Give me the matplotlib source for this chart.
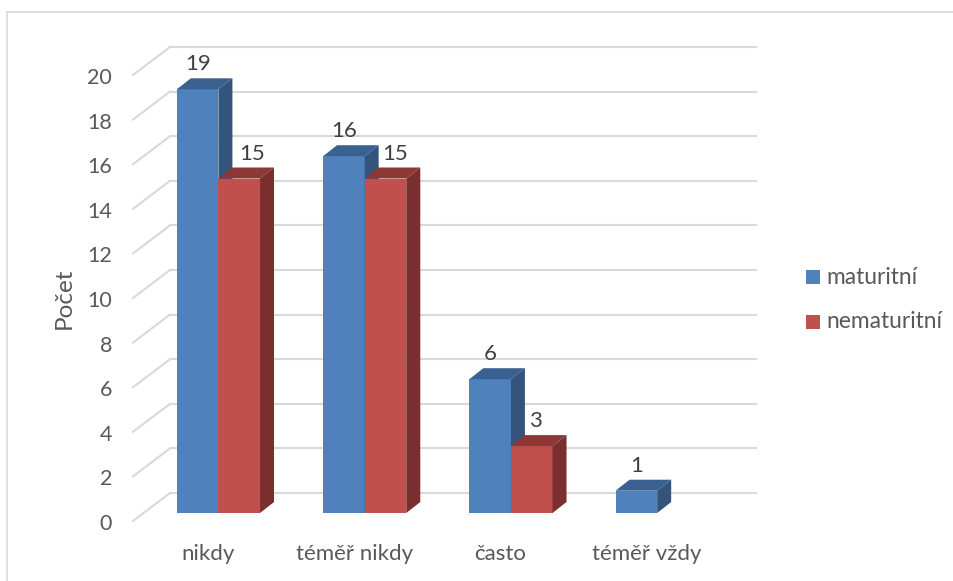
import matplotlib
matplotlib.use('Agg')
import matplotlib.pyplot as plt
import matplotlib.transforms as mtrans
from matplotlib.patches import Rectangle

plt.rcParams['font.family'] = ['Lato', 'DejaVu Sans']

categories = ['nikdy', 'téměř nikdy', 'často', 'téměř vždy']
maturitni = [19, 16, 6, 1]
nematuritni = [15, 15, 3, 0]
y_ticks = list(range(0, 21, 2))

W, H = 954, 581
BLUE = ('#4F81BD', '#3A6190', '#34547C')
RED = ('#C0504D', '#8E3836', '#7A2F2E')
GRID = '#D9D9D9'
TEXT = '#595959'

fig = plt.figure(figsize=(W / 100, H / 100), dpi=100)

# front plane of the bars, in pixels
left, right, y0, y20 = 145.3, 730.3, 513.0, 67.0
ax = fig.add_axes([left / W, 1 - y0 / H, (right - left) / W, (y0 - y20) / H])
ax.set_xlim(-0.5, 3.5)
ax.set_ylim(0, 20)

px_x = 1 / ((right - left) / 4)
px_y = 20 / (y0 - y20)


def px_offset(dx, dy):
    return mtrans.ScaledTranslation(dx / 100, dy / 100, fig.dpi_scale_trans)


# back wall gridlines and the slanted lines on the side wall
for t in y_ticks:
    wall_y = t + 20 * px_y
    wall_left = -0.5 + 24.7 * px_x
    ax.plot([wall_left, -0.5 + 610.7 * px_x], [wall_y, wall_y], color=GRID, lw=1.5,
            clip_on=False, zorder=1)
    ax.plot([-0.5 - 12.3 * px_x, wall_left], [t - 8 * px_y, wall_y], color=GRID, lw=1.5,
            clip_on=False, zorder=1)

bar_w = 41.6 * px_x
depth_x = 14 * px_x
depth_y = 11 * px_y


def draw_bar(x, val, colors):
    if val == 0:
        return
    ax.bar(x, val, width=bar_w, align='edge', color=colors[0], zorder=3, clip_on=False)
    ax.fill([x, x + depth_x, x + bar_w + depth_x, x + bar_w],
            [val, val + depth_y, val + depth_y, val], color=colors[1], lw=0, zorder=3, clip_on=False)
    ax.fill([x + bar_w, x + bar_w + depth_x, x + bar_w + depth_x, x + bar_w],
            [0, depth_y, val + depth_y, val], color=colors[2], lw=0, zorder=3, clip_on=False)


label_shift_red = [13, 10, 4, 0]
for i, (a, b) in enumerate(zip(maturitni, nematuritni)):
    draw_bar(i - bar_w, a, BLUE)
    draw_bar(i, b, RED)
    ax.text(i - bar_w / 2, a + 25 * px_y, str(a), ha='center',
            va='center', fontsize=16, color='#404040', zorder=5)
    if b > 0:
        ax.text(i + bar_w / 2 + label_shift_red[i] * px_x, b + 25 * px_y, str(b), ha='center',
                va='center', fontsize=16, color='#404040', zorder=5)

ax.set_xticks(range(len(categories)))
ax.set_xticklabels(categories)
ax.set_yticks(y_ticks)
ax.tick_params(length=0, labelsize=15.5, labelcolor=TEXT)
ax.tick_params(axis='y', pad=24)
ax.tick_params(axis='x', pad=22)
ax.tick_params(axis='x', labelsize=16)
for lab in ax.get_yticklabels():
    lab.set_transform(lab.get_transform() + px_offset(0, -9))
for lab in ax.get_xticklabels():
    lab.set_transform(lab.get_transform() + px_offset(-10.5, 0))
for s in ax.spines.values():
    s.set_visible(False)
ax.set_ylabel('Počet', fontsize=17.5, color=TEXT)
ax.yaxis.set_label_coords((75 - left) / (right - left), (y0 - 298) / (y0 - y20))

# outer frame: only top and left edges are visible
fig.add_artist(plt.Line2D([7 / W, 1], [1 - 11.7 / H, 1 - 11.7 / H], color=GRID, lw=1.2))
fig.add_artist(plt.Line2D([7.3 / W, 7.3 / W], [0, 1 - 11.7 / H], color=GRID, lw=1.2))

# legend
for y, col, name in [(277, BLUE[0], 'maturitní'), (322, RED[0], 'nematuritní')]:
    fig.add_artist(Rectangle((806 / W, 1 - (y + 7) / H), 14 / W, 14 / H, color=col, lw=0,
                             transform=fig.transFigure))
    fig.text(826 / W, 1 - y / H, name, fontsize=16.4, color=TEXT, va='center', ha='left')

fig.savefig('out.png', dpi=100)
